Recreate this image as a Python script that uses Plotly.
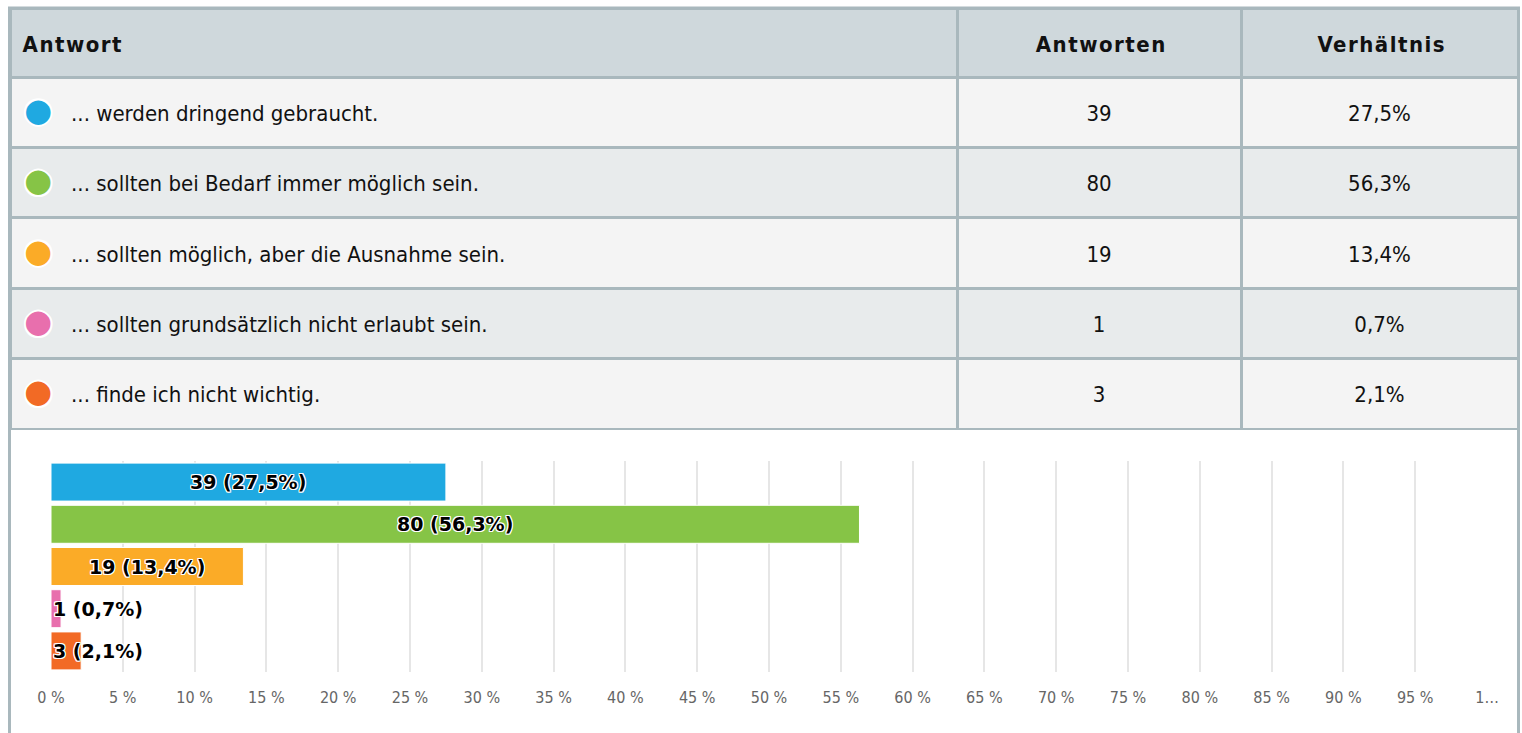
import plotly.graph_objects as go

# ---------------- data ----------------
answers = [
    "... werden dringend gebraucht.",
    "... sollten bei Bedarf immer möglich sein.",
    "... sollten möglich, aber die Ausnahme sein.",
    "... sollten grundsätzlich nicht erlaubt sein.",
    "... finde ich nicht wichtig.",
]
counts = [39, 80, 19, 1, 3]
percents = [27.5, 56.3, 13.4, 0.7, 2.1]
colors = ["#1fa9e1", "#86c446", "#fbab27", "#e86fad", "#f26a25"]
headers = ["Antwort", "Antworten", "Verhältnis"]
tick_vals = [0, 5, 10, 15, 20, 25, 30, 35, 40, 45, 50, 55, 60, 65, 70, 75, 80, 85, 90, 95, 100]
tick_text = ["0 %", "5 %", "10 %", "15 %", "20 %", "25 %", "30 %", "35 %", "40 %", "45 %",
             "50 %", "55 %", "60 %", "65 %", "70 %", "75 %", "80 %", "85 %", "90 %", "95 %", "1…"]

# ---------------- layout helpers ----------------
W, H = 1522, 733
def px(x):
    return x / W
def py(y):
    return 1 - y / H

BORDER = "#a9b8bd"
NARROW = "DejaVu Sans Condensed, Roboto Condensed, Liberation Sans Narrow, Roboto, sans-serif"
NB = "\u00a0"

def fmt_pct(p):
    return f"{p:.1f}".replace(".", ",") + "%"

def cell(t, bold=False):
    if bold:
        return f"{NB}<br>{NB}<span style='font-size:22px;letter-spacing:1.5px'><b>{t}</b></span>"
    return f"{NB}<br><span style='font-size:22px'>{t}</span>"

ring = ("text-shadow:2px 0 0 #fff,-2px 0 0 #fff,0 2px 0 #fff,0 -2px 0 #fff,"
        "1.5px 1.5px 0 #fff,-1.5px -1.5px 0 #fff,1.5px -1.5px 0 #fff,-1.5px 1.5px 0 #fff")

def answer_cell(a, col):
    dot = f"<span style='color:{col};font-size:32px;font-family:DejaVu Sans;{ring}'>●</span>"
    return f"{NB}<br><span style='font-size:22px'>{NB}{dot}{NB * 3}{a}</span>"

pct_text = [fmt_pct(p) for p in percents]
bar_labels = [f"{c} ({fmt_pct(p)})" for c, p in zip(counts, percents)]
row_fill = ["#f4f4f4", "#e8ebec", "#f4f4f4", "#e8ebec", "#f4f4f4"]

fig = go.Figure()

# ---------------- table ----------------
fig.add_trace(go.Table(
    domain=dict(x=[px(10), px(1518)], y=[py(430), py(8)]),
    columnwidth=[947, 284, 277],
    header=dict(
        values=[cell(h, bold=True) for h in headers],
        align=["left", "center", "center"],
        fill_color="#cfd8dc",
        line=dict(color=BORDER, width=3),
        font=dict(family=NARROW, size=16, color="#111111"),
        height=69,
    ),
    cells=dict(
        values=[[answer_cell(a, c) for a, c in zip(answers, colors)],
                [cell(c) for c in counts],
                [cell(p) for p in pct_text]],
        align=["left", "center", "center"],
        fill_color=[row_fill, row_fill, row_fill],
        line=dict(color=BORDER, width=3),
        font=dict(family=NARROW, size=16, color="#111111"),
        height=70.4,
    ),
))

# ---------------- bar chart ----------------
fig.add_trace(go.Bar(
    x=percents, y=answers, orientation="h",
    marker=dict(color=colors, line=dict(color="white", width=1)),
    showlegend=False, hoverinfo="skip",
))

shadow = "1px 1px 0 #fff, -1px -1px 0 #fff, 1px -1px 0 #fff, -1px 1px 0 #fff, 0 1px 0 #fff, 0 -1px 0 #fff, 1px 0 0 #fff, -1px 0 0 #fff"
for a, p, lab in zip(answers, percents, bar_labels):
    big = p > 5
    fig.add_annotation(
        x=p / 2 if big else 0, y=a, xref="x", yref="y",
        text=lab, showarrow=False,
        xanchor="center" if big else "left",
        font=dict(family="DejaVu Sans", size=19, weight="bold", color="#000000", shadow=shadow),
    )

# container border
fig.add_shape(type="rect", xref="paper", yref="paper",
              x0=px(9.5), x1=px(1518.5), y0=py(760), y1=py(8),
              line=dict(color=BORDER, width=3), layer="below")

fig.update_layout(
    width=W, height=H,
    margin=dict(l=0, r=0, t=0, b=0, pad=0, autoexpand=False),
    paper_bgcolor="white", plot_bgcolor="white",
    bargap=0.1,
    xaxis=dict(
        domain=[px(51), px(1487)], range=[0, 100],
        tickvals=tick_vals, ticktext=tick_text, automargin=False,
        showgrid=True, gridcolor="#e6e6e6", gridwidth=2,
        zeroline=False, showline=False, ticks="",
        tickfont=dict(family=NARROW, size=16, color="#666666"),
        ticklabelstandoff=14, fixedrange=True,
    ),
    yaxis=dict(
        domain=[py(672), py(461)], automargin=False,
        categoryorder="array", categoryarray=answers,
        autorange="reversed", showticklabels=False, showgrid=False,
        zeroline=False, ticks="", fixedrange=True,
    ),
)

fig.write_html("out.html", config={"displayModeBar": False},
               post_script="document.body.style.margin='0px';document.body.style.overflow='hidden';")
